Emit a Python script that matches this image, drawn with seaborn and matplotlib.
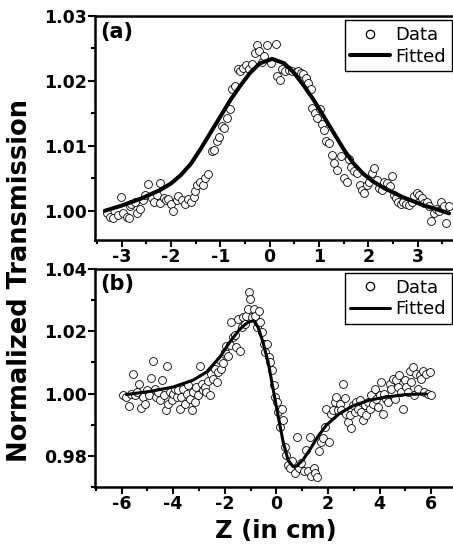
from matplotlib.lines import Line2D
from matplotlib.ticker import MultipleLocator, FormatStrFormatter

import matplotlib
matplotlib.use("Agg")
import matplotlib.pyplot as plt
import seaborn

# panel (a): open aperture data and fit
z_a = [-3.30, -3.24, -3.17, -3.07, -3.01, -2.97, -2.90, -2.86, -2.83, -2.80,
       -2.73, -2.68, -2.63, -2.57, -2.52, -2.46, -2.39, -2.34, -2.29, -2.23,
       -2.22, -2.15, -2.10, -2.05, -2.00, -1.95, -1.88, -1.85, -1.78, -1.71,
       -1.66, -1.59, -1.54, -1.51, -1.47, -1.41, -1.35, -1.31, -1.25, -1.17,
       -1.12, -1.07, -1.03, -0.97, -0.92, -0.86, -0.81, -0.76, -0.71, -0.65,
       -0.59, -0.54, -0.48, -0.42, -0.36, -0.30, -0.25, -0.21, -0.15, -0.11,
       -0.05, 0.02, 0.12, 0.15, 0.21, 0.25, 0.32, 0.39, 0.46, 0.53,
       0.57, 0.63, 0.68, 0.73, 0.78, 0.83, 0.86, 0.93, 0.97, 1.02,
       1.07, 1.10, 1.14, 1.20, 1.27, 1.31, 1.36, 1.44, 1.50, 1.56,
       1.61, 1.66, 1.71, 1.78, 1.83, 1.88, 1.92, 1.97, 2.02, 2.08,
       2.12, 2.17, 2.22, 2.27, 2.32, 2.39, 2.44, 2.48, 2.53, 2.56,
       2.61, 2.66, 2.71, 2.76, 2.83, 2.88, 2.93, 2.99, 3.03, 3.10,
       3.14, 3.19, 3.24, 3.27, 3.33, 3.37, 3.44, 3.47, 3.54, 3.58, 3.63]
t_a = [0.9996, 0.9991, 0.9989, 0.9994, 1.0021, 0.9997, 0.9991, 0.9989, 1.0007, 1.0011,
       1.0014, 0.9996, 1.0002, 1.0017, 1.0025, 1.0041, 1.0020, 1.0013, 1.0024, 1.0043,
       1.0012, 1.0020, 1.0017, 1.0018, 1.0011, 0.9999, 1.0017, 1.0022, 1.0017, 1.0011,
       1.0018, 1.0013, 1.0021, 1.0030, 1.0040, 1.0045, 1.0040, 1.0050, 1.0056, 1.0092,
       1.0094, 1.0107, 1.0113, 1.0130, 1.0128, 1.0143, 1.0157, 1.0187, 1.0192, 1.0219,
       1.0215, 1.0220, 1.0224, 1.0218, 1.0226, 1.0243, 1.0255, 1.0246, 1.0229, 1.0239,
       1.0255, 1.0228, 1.0257, 1.0207, 1.0202, 1.0219, 1.0215, 1.0217, 1.0215, 1.0214,
       1.0216, 1.0212, 1.0210, 1.0205, 1.0197, 1.0188, 1.0159, 1.0151, 1.0143, 1.0156,
       1.0133, 1.0125, 1.0107, 1.0104, 1.0086, 1.0074, 1.0063, 1.0084, 1.0050, 1.0045,
       1.0080, 1.0068, 1.0061, 1.0058, 1.0040, 1.0032, 1.0027, 1.0040, 1.0045, 1.0058,
       1.0066, 1.0048, 1.0035, 1.0032, 1.0045, 1.0043, 1.0038, 1.0054, 1.0025, 1.0020,
       1.0014, 1.0011, 1.0013, 1.0011, 1.0009, 1.0014, 1.0022, 1.0027, 1.0025, 1.0020,
       1.0012, 1.0013, 1.0007, 0.9984, 0.9996, 1.0002, 0.9999, 1.0014, 1.0008, 0.9981, 1.0007]
fit_z_a = [-3.34, -3.00, -2.60, -2.22, -2.00, -1.80, -1.60, -1.40, -1.20, -1.00,
           -0.80, -0.60, -0.40, -0.20, 0.05, 0.30, 0.50, 0.70, 0.90, 1.10,
           1.30, 1.50, 1.70, 1.90, 2.10, 2.32, 2.70, 3.10, 3.44, 3.64]
fit_t_a = [1.0000, 1.0008, 1.0019, 1.0032, 1.0042, 1.0055, 1.0072, 1.0095, 1.0120, 1.0145,
           1.0170, 1.0192, 1.0212, 1.0227, 1.0234, 1.0227, 1.0212, 1.0192, 1.0170, 1.0145,
           1.0120, 1.0095, 1.0073, 1.0057, 1.0045, 1.0035, 1.0021, 1.0009, 1.0001, 0.9996]

# panel (b): closed aperture data and fit
z_b = [-5.94, -5.81, -5.70, -5.64, -5.55, -5.48, -5.39, -5.32, -5.26, -5.16,
       -5.10, -5.01, -4.93, -4.85, -4.80, -4.72, -4.65, -4.58, -4.52, -4.45,
       -4.36, -4.28, -4.23, -4.19, -4.13, -4.05, -4.00, -3.94, -3.87, -3.81,
       -3.74, -3.68, -3.61, -3.55, -3.48, -3.42, -3.35, -3.28, -3.23, -3.16,
       -3.10, -3.03, -2.97, -2.90, -2.84, -2.77, -2.71, -2.65, -2.58, -2.52,
       -2.45, -2.39, -2.32, -2.26, -2.19, -2.13, -2.06, -2.00, -1.94, -1.87,
       -1.81, -1.74, -1.68, -1.61, -1.55, -1.48, -1.42, -1.35, -1.29, -1.23,
       -1.16, -1.10, -1.06, -1.01, -0.94, -0.88, -0.81, -0.77, -0.68, -0.62,
       -0.55, -0.49, -0.43, -0.36, -0.30, -0.23, -0.17, -0.10, -0.04, 0.03,
       0.08, 0.15, 0.22, 0.26, 0.32, 0.39, 0.45, 0.52, 0.62, 0.71,
       0.80, 0.88, 0.97, 1.07, 1.14, 1.23, 1.29, 1.35, 1.45, 1.51,
       1.57, 1.65, 1.74, 1.81, 1.87, 1.94, 2.04, 2.13, 2.19, 2.26,
       2.32, 2.39, 2.45, 2.52, 2.58, 2.65, 2.71, 2.77, 2.84, 2.90,
       2.97, 3.03, 3.10, 3.16, 3.23, 3.29, 3.35, 3.42, 3.48, 3.55,
       3.61, 3.68, 3.74, 3.81, 3.87, 3.94, 4.00, 4.06, 4.13, 4.19,
       4.26, 4.32, 4.39, 4.45, 4.52, 4.58, 4.65, 4.71, 4.77, 4.84,
       4.90, 4.97, 5.03, 5.10, 5.16, 5.23, 5.29, 5.35, 5.42, 5.48,
       5.55, 5.61, 5.68, 5.74, 5.81, 5.87, 5.94, 6.00]
t_b = [0.9997, 0.9989, 0.9960, 1.0000, 1.0064, 0.9995, 1.0005, 1.0032, 0.9955, 0.9989,
       0.9968, 1.0011, 0.9995, 1.0051, 1.0103, 1.0016, 0.9989, 1.0005, 0.9979, 1.0043,
       0.9997, 0.9947, 1.0090, 0.9965, 1.0005, 0.9979, 1.0000, 1.0016, 0.9989, 1.0011,
       0.9952, 0.9989, 1.0016, 0.9968, 1.0000, 1.0027, 0.9984, 0.9947, 1.0005, 0.9973,
       1.0021, 0.9995, 1.0087, 1.0032, 1.0011, 1.0021, 1.0005, 1.0039, 0.9997, 1.0064,
       1.0048, 1.0080, 1.0037, 1.0069, 1.0109, 1.0080, 1.0099, 1.0133, 1.0154, 1.0122,
       1.0156, 1.0231, 1.0181, 1.0188, 1.0149, 1.0241, 1.0138, 1.0213, 1.0245, 1.0223,
       1.0250, 1.0271, 1.0327, 1.0305, 1.0245, 1.0271, 1.0250, 1.0213, 1.0266, 1.0229,
       1.0197, 1.0160, 1.0133, 1.0160, 1.0117, 1.0101, 1.0077, 1.0027, 0.9989, 0.9973,
       0.9941, 0.9894, 0.9952, 0.9915, 0.9830, 0.9803, 0.9771, 0.9761, 0.9782, 0.9745,
       0.9862, 0.9761, 0.9777, 0.9750, 0.9819, 0.9752, 0.9862, 0.9734, 0.9761, 0.9745,
       0.9731, 0.9814, 0.9846, 0.9856, 0.9894, 0.9952, 0.9846, 0.9933, 0.9947, 0.9973,
       0.9989, 0.9947, 0.9968, 0.9947, 1.0032, 0.9986, 0.9936, 0.9910, 0.9931, 0.9888,
       0.9963, 0.9941, 0.9973, 0.9952, 0.9979, 0.9941, 0.9915, 0.9963, 0.9931, 0.9973,
       0.9952, 0.9995, 0.9968, 1.0016, 0.9984, 0.9957, 0.9995, 1.0037, 0.9936, 1.0000,
       0.9984, 0.9973, 1.0032, 1.0016, 1.0048, 0.9984, 1.0043, 1.0021, 1.0059, 1.0005,
       0.9952, 1.0043, 1.0021, 1.0005, 1.0074, 1.0037, 1.0085, 0.9995, 1.0064, 1.0016,
       1.0059, 1.0048, 1.0074, 1.0005, 1.0064, 1.0000, 1.0069, 0.9995]
fit_z_b = [-5.81, -4.90, -4.00, -3.23, -2.71, -2.19, -1.81, -1.42, -1.10, -0.88,
           -0.71, -0.52, -0.32, -0.13, 0.06, 0.26, 0.45, 0.65, 0.80, 1.03,
           1.29, 1.61, 1.94, 2.45, 2.97, 3.61, 4.26, 5.03, 5.81]
fit_t_b = [0.9997, 1.0007, 1.0021, 1.0043, 1.0069, 1.0117, 1.0165, 1.0207, 1.0229, 1.0234,
           1.0213, 1.0165, 1.0101, 1.0016, 0.9931, 0.9846, 0.9787, 0.9765, 0.9768, 0.9787,
           0.9819, 0.9862, 0.9899, 0.9936, 0.9961, 0.9979, 0.9989, 0.9997, 0.9999]

seaborn.set_style("ticks")
plt.rcParams["font.family"] = ["DejaVu Sans"]
plt.rcParams["axes.unicode_minus"] = False
for key in ["text.color", "axes.labelcolor", "axes.edgecolor", "xtick.color", "ytick.color"]:
    plt.rcParams[key] = "black"

W, H = 453, 556
fig = plt.figure(figsize=(W / 100, H / 100), dpi=100)
ax_a = fig.add_axes([95 / W, 1 - 240 / H, (457 - 95) / W, 224 / H])
ax_b = fig.add_axes([95 / W, 1 - 487 / H, (457 - 95) / W, 218 / H])

panels = [
    (ax_a, z_a, t_a, fit_z_a, fit_t_a, 2.9, "(a)", (-3.54, 3.80), (0.9955, 1.03), 1, 0.5, 0.01, 0.005),
    (ax_b, z_b, t_b, fit_z_b, fit_t_b, 2.2, "(b)", (-7.03, 7.0), (0.970, 1.04), 2, 1, 0.02, 0.01),
]
for ax, zd, td, zf, tf, lw, tag, xl, yl, xmaj, xmin, ymaj, ymin in panels:
    seaborn.scatterplot(x=zd, y=td, ax=ax, marker="o", s=32, facecolor="white",
                        edgecolor="black", linewidth=0.6, zorder=2)
    seaborn.lineplot(x=zf, y=tf, ax=ax, color="black", linewidth=lw, sort=False, zorder=3)
    ax.set_xlim(*xl)
    ax.set_ylim(*yl)
    ax.xaxis.set_major_locator(MultipleLocator(xmaj))
    ax.xaxis.set_minor_locator(MultipleLocator(xmin))
    ax.yaxis.set_major_locator(MultipleLocator(ymaj))
    ax.yaxis.set_minor_locator(MultipleLocator(ymin))
    ax.yaxis.set_major_formatter(FormatStrFormatter("%.2f"))
    ax.tick_params(which="major", direction="out", length=5, width=1.5, labelsize=12.5, pad=1)
    ax.tick_params(which="minor", direction="out", length=3, width=1.5)
    for sp in ax.spines.values():
        sp.set_linewidth(1.8)
    ax.text(0.015, 0.975, tag, transform=ax.transAxes, ha="left", va="top",
            fontsize=15, fontweight="bold")
    handles = [Line2D([0], [0], marker="o", linestyle="none", markerfacecolor="white",
                      markeredgecolor="black", markersize=6, markeredgewidth=0.9),
               Line2D([0], [0], color="black", linewidth=lw)]
    leg = ax.legend(handles, ["Data", "Fitted"], loc="upper right",
                    bbox_to_anchor=(0.985, 0.98), borderaxespad=0, fancybox=False,
                    edgecolor="black", framealpha=1, handlelength=2.2, handletextpad=0.3,
                    borderpad=0.3, labelspacing=0.2, prop={"size": 13})
    leg.get_frame().set_linewidth(1.0)

fig.text(20 / W, 1 - 280 / H, "Normalized Transmission", rotation=90, ha="center",
         va="center", fontsize=18.5, fontweight="bold")
ax_b.set_xlabel("Z (in cm)", fontsize=17.5, fontweight="bold", labelpad=4)

fig.canvas.draw()
for ax in (ax_a, ax_b):
    for lbl in ax.get_xticklabels() + ax.get_yticklabels():
        lbl.set_fontweight("bold")

fig.savefig("out.png", dpi=100)
